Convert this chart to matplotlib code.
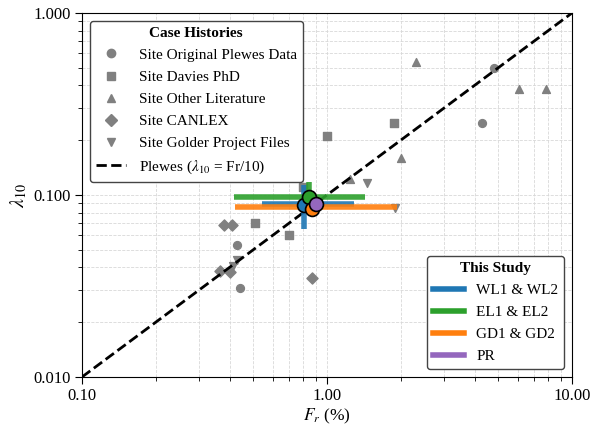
import numpy as np
import matplotlib
matplotlib.use("Agg")
import matplotlib.pyplot as plt
from matplotlib.lines import Line2D

plt.rcParams['font.family'] = ['Liberation Serif', 'DejaVu Serif']
plt.rcParams['mathtext.fontset'] = 'stix'

# Case histories (Fr %, lambda10)
plewes_fr = [4.8, 4.3, 0.43, 0.44]
plewes_l = [0.50, 0.25, 0.053, 0.031]
davies_fr = [1.0, 1.87, 0.51, 0.70, 0.80]
davies_l = [0.21, 0.25, 0.070, 0.060, 0.11]
other_fr = [2.3, 6.1, 7.8, 2.0, 1.24]
other_l = [0.54, 0.38, 0.38, 0.16, 0.122]
canlex_fr = [0.38, 0.41, 0.87, 0.366, 0.402]
canlex_l = [0.068, 0.068, 0.035, 0.038, 0.0378]
golder_fr = [1.45, 1.9, 0.43, 0.413]
golder_l = [0.116, 0.085, 0.044, 0.0407]

# This study: centre, x-range, y-range
study_labels = ['WL1 & WL2', 'EL1 & EL2', 'GD1 & GD2', 'PR']
study_colors = ['#1f77b4', '#2ca02c', '#ff7f0e', '#9467bd']
study_fr = [0.805, 0.845, 0.868, 0.902]
study_l = [0.0881, 0.0975, 0.0838, 0.0893]
study_fr_lo = [0.543, 0.417, 0.42, 0.902]
study_fr_hi = [1.29, 1.43, 1.93, 0.902]
study_l_lo = [0.065, 0.0797, 0.080, 0.0893]
study_l_hi = [0.1135, 0.118, 0.088, 0.0893]
study_bar_y = [0.0895, 0.0975, 0.0855, 0.0893]

fig = plt.figure(figsize=(5.9, 4.3), dpi=100)
ax = fig.add_axes([0.139, 0.1233, 0.8305, 0.8465])
ax.set_xscale('log')
ax.set_yscale('log')
ax.set_xlim(0.1, 10)
ax.set_ylim(0.01, 1)

ax.grid(True, which='both', linestyle='--', color='#d8d8d8', linewidth=0.6)
ax.set_axisbelow(True)

grey = '#808080'
ms = 32
ax.scatter(plewes_fr, plewes_l, marker='o', s=ms, color=grey, zorder=3)
ax.scatter(davies_fr, davies_l, marker='s', s=ms, color=grey, zorder=3)
ax.scatter(other_fr, other_l, marker='^', s=ms, color=grey, zorder=3)
ax.scatter(canlex_fr, canlex_l, marker='D', s=ms, color=grey, zorder=3)
ax.scatter(golder_fr, golder_l, marker='v', s=ms, color=grey, zorder=3)

xl = np.array([0.1, 10])
ax.plot(xl, xl / 10, 'k--', lw=2, zorder=4)

for i in range(4):
    c = study_colors[i]
    ax.plot([study_fr_lo[i], study_fr_hi[i]], [study_bar_y[i], study_bar_y[i]], color=c, lw=4, alpha=0.9, zorder=5, solid_capstyle='butt')
    ax.plot([study_fr[i], study_fr[i]], [study_l_lo[i], study_l_hi[i]], color=c, lw=4, alpha=0.9, zorder=5, solid_capstyle='butt')
for i in range(4):
    ax.plot(study_fr[i], study_l[i], 'o', ms=10, color=study_colors[i], mec='black', mew=1.2, zorder=6)

ax.set_xticks([0.1, 1, 10])
ax.set_xticklabels(['0.10', '1.00', '10.00'])
ax.set_yticks([0.01, 0.1, 1])
ax.set_yticklabels(['0.010', '0.100', '1.000'])
ax.tick_params(which='major', labelsize=12, length=5, pad=3)
ax.tick_params(which='minor', length=3, labelbottom=False, labelleft=False)
ax.set_xlabel('$F_r$ (%)', fontsize=12.5, labelpad=2)
ax.set_ylabel('$\\lambda_{10}$', fontsize=14.5, labelpad=3)

h1 = [
    Line2D([], [], marker='o', ls='none', color=grey, ms=6, label='Site Original Plewes Data'),
    Line2D([], [], marker='s', ls='none', color=grey, ms=6, label='Site Davies PhD'),
    Line2D([], [], marker='^', ls='none', color=grey, ms=6, label='Site Other Literature'),
    Line2D([], [], marker='D', ls='none', color=grey, ms=6, label='Site CANLEX'),
    Line2D([], [], marker='v', ls='none', color=grey, ms=6, label='Site Golder Project Files'),
    Line2D([], [], ls='--', color='black', lw=2, label='Plewes ($\\lambda_{10}$ = Fr/10)'),
]
leg1 = ax.legend(handles=h1, loc='upper left', title='Case Histories', fontsize=11,
                 title_fontproperties={'weight': 'bold', 'size': 11}, edgecolor='#444444',
                 framealpha=1, fancybox=True, labelspacing=0.55)
ax.add_artist(leg1)
h2 = [Line2D([], [], color=study_colors[i], lw=4, label=study_labels[i]) for i in range(4)]
leg2 = ax.legend(handles=h2, loc='lower right', title='This Study', fontsize=11,
                 title_fontproperties={'weight': 'bold', 'size': 11}, edgecolor='#444444',
                 framealpha=1, fancybox=True, labelspacing=0.55)

fig.savefig('out.png', dpi=100)
